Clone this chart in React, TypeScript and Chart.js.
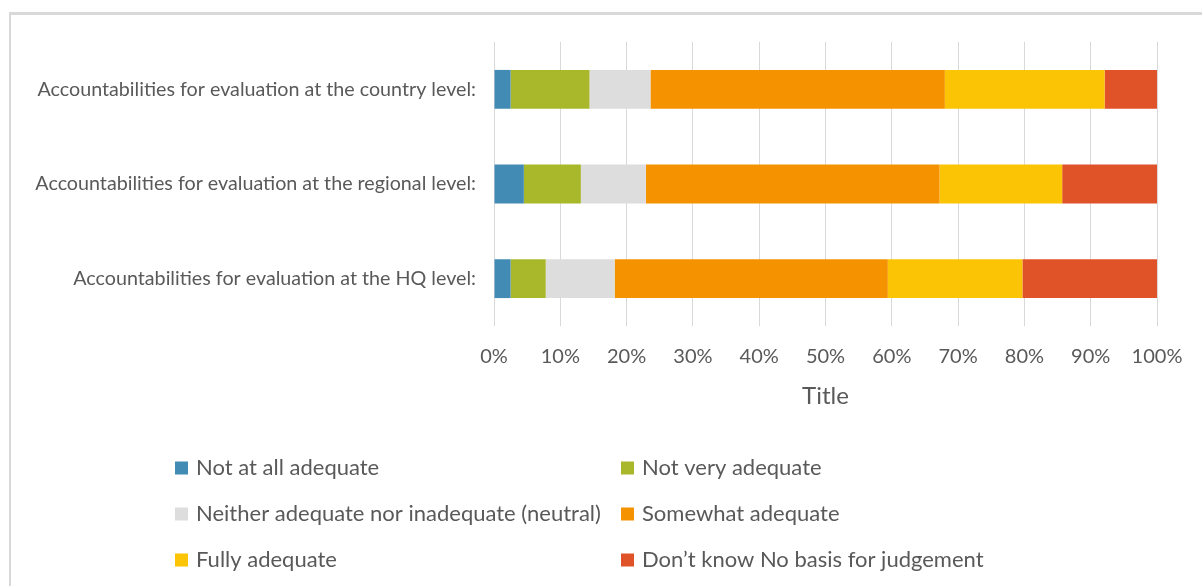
import React, { useEffect, useRef } from "react";
import { Chart, registerables } from "chart.js";

Chart.register(...registerables);

const categories = [
  "Accountabilities for evaluation at the country level:",
  "Accountabilities for evaluation at the regional level:",
  "Accountabilities for evaluation at the HQ level:",
];
const seriesNames = [
  "Not at all adequate",
  "Not very adequate",
  "Neither adequate nor inadequate (neutral)",
  "Somewhat adequate",
  "Fully adequate",
  "Don\u2019t know No basis for judgement",
];
const notAtAll = [2.5, 4.5, 2.5];
const notVery = [11.9, 8.6, 5.3];
const neutral = [9.2, 9.8, 10.4];
const somewhat = [44.4, 44.3, 41.2];
const fully = [24.1, 18.5, 20.3];
const dontKnow = [7.9, 14.3, 20.3];
const seriesColors = ["#428BB5", "#A8B82A", "#DDDDDD", "#F59200", "#FBC405", "#E05328"];
const xTicks = [0, 10, 20, 30, 40, 50, 60, 70, 80, 90, 100];
const axisTitle = "Title";

const FONT = "Lato, 'Open Sans', sans-serif";
const TEXT = "#595959";

const framePlugin = {
  id: "frame",
  beforeDraw(chart: any) {
    const ctx = chart.ctx;
    ctx.save();
    ctx.fillStyle = "#fff";
    ctx.fillRect(0, 0, chart.width, chart.height);
    ctx.fillStyle = "#D9D9D9";
    ctx.fillRect(9, 12, chart.width - 9, 3);
    ctx.fillRect(9, 12, 2, chart.height - 12);
    ctx.restore();
  },
};

const gridLegendPlugin = {
  id: "gridLegend",
  afterDraw(chart: any) {
    const ctx = chart.ctx;
    const colX = [175, 621];
    const rowY = [468, 514, 560];
    const box = 13;
    ctx.save();
    ctx.font = `22px ${FONT}`;
    ctx.textBaseline = "middle";
    ctx.textAlign = "left";
    chart.data.datasets.forEach((ds: any, i: number) => {
      const x = colX[i % 2];
      const y = rowY[Math.floor(i / 2)];
      ctx.fillStyle = ds.backgroundColor;
      ctx.fillRect(x, y - box / 2, box, box);
      ctx.fillStyle = TEXT;
      ctx.fillText(ds.label, x + 21, y);
    });
    ctx.restore();
  },
};

export default function App() {
  const ref = useRef<HTMLCanvasElement | null>(null);
  useEffect(() => {
    if (!ref.current) return;
    const values = [notAtAll, notVery, neutral, somewhat, fully, dontKnow];
    const chart = new Chart(ref.current, {
      type: "bar",
      data: {
        labels: categories,
        datasets: values.map((v, i) => ({
          label: seriesNames[i],
          data: v,
          backgroundColor: seriesColors[i],
          borderWidth: 0,
          categoryPercentage: 1,
          barPercentage: 0.41,
        })),
      },
      options: {
        indexAxis: "y",
        animation: false,
        responsive: true,
        maintainAspectRatio: false,
        layout: { padding: { left: 0, right: 45, top: 42, bottom: 175.6 } },
        plugins: { legend: { display: false }, tooltip: { enabled: false } },
        scales: {
          x: {
            stacked: true,
            min: 0,
            max: 100,
            afterBuildTicks: (s: any) => {
              s.ticks = xTicks.map((v) => ({ value: v }));
            },
            afterFit: (s: any) => {
              s.height = 84.4;
            },
            grid: { color: "#D9D9D9", lineWidth: 1, drawTicks: false },
            border: { display: false },
            ticks: {
              padding: 19,
              color: TEXT,
              font: { family: FONT, size: 20 },
              callback: (v: any) => `${v}%`,
            },
            title: {
              display: true,
              text: axisTitle,
              color: TEXT,
              font: { family: FONT, size: 24 },
              padding: { top: 12, bottom: 0 },
            },
          },
          y: {
            stacked: true,
            afterFit: (s: any) => {
              s.width = 494;
            },
            grid: { display: false, drawTicks: false },
            border: { display: false },
            ticks: {
              padding: 18,
              color: TEXT,
              font: { family: FONT, size: 19.7 },
            },
          },
        },
      },
      plugins: [framePlugin, gridLegendPlugin],
    });
    return () => chart.destroy();
  }, []);
  return (
    <div style={{ position: "absolute", left: 0, top: 0, width: 1202, height: 586 }}>
      <canvas ref={ref} />
    </div>
  );
}
